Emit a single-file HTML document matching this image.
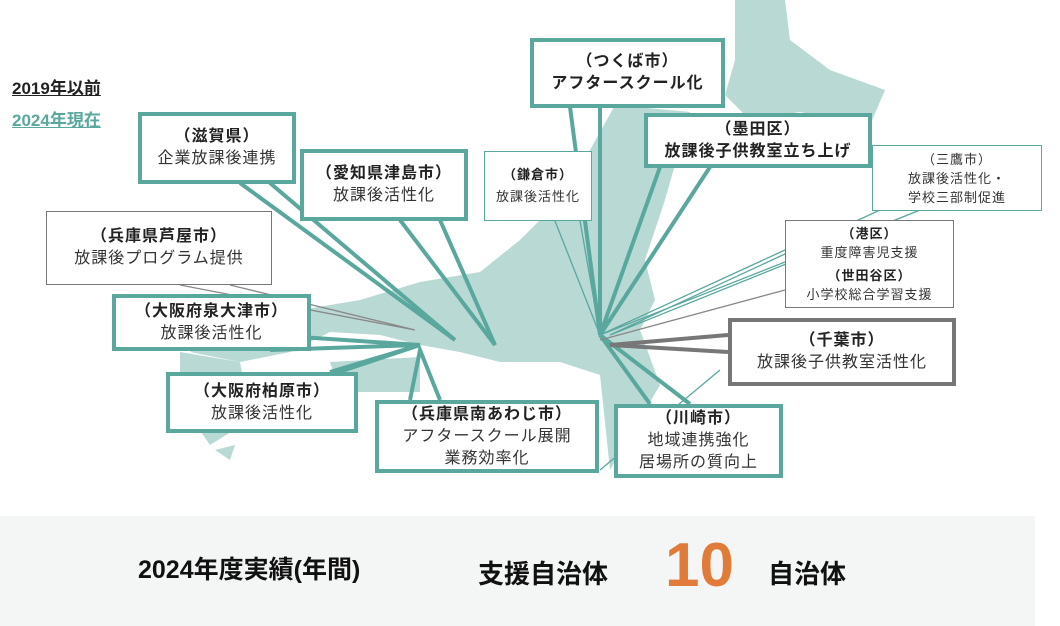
<!DOCTYPE html>
<html><head><meta charset="utf-8"><style>
body{margin:0;width:1060px;height:626px;background:#fff;overflow:hidden;font-family:"Liberation Sans","Noto Sans CJK JP",sans-serif;position:relative}
svg{position:absolute;left:0;top:0}
.b{position:absolute;background:#fff;box-sizing:border-box;text-align:center;color:#333;font-size:16px;line-height:22px;display:flex;flex-direction:column;justify-content:center;letter-spacing:1px}
.t{border:4px solid #5aa79e}
.tt{border:1.5px solid #5aa79e}
.g{border:1.5px solid #777}
.gg{border:4px solid #777}
.b b{font-weight:bold;color:#222}
</style></head><body>
<svg width="1060" height="626">
<g fill="#b9d9d5">
<polygon points="735,0 785,0 790,40 830,70 885,90 870,125 800,112 750,120 725,95 735,60"/>
<polygon points="615,105 690,112 665,200 645,260 655,300 640,330 660,385 610,470 600,375 560,362 500,362 460,352 420,345 380,335 330,332 290,352 240,362 190,352 230,322 300,310 360,300 420,282 480,272 520,240 560,200 590,150"/>
<polygon points="180,352 240,362 250,420 210,445 180,402"/>
<polygon points="330,362 420,357 420,392 340,392"/>
<polygon points="215,450 235,445 230,460"/>
</g>
<g fill="none" stroke="#5aa79e" stroke-width="4">
<polyline points="240,183 455,340 270,183"/>
<polyline points="400,220 495,345 440,220"/>
<polyline points="270,350 420,345 270,335"/>
<polyline points="300,385 420,345 330,372"/>
<polyline points="410,400 420,350 440,400"/>
<polyline points="570,107 600,335 600,107"/>
<polyline points="660,167 600,335 710,167"/>
<polyline points="650,404 600,335 690,404"/>
</g>
<g fill="none" stroke="#5aa79e" stroke-width="1.3">
<polyline points="555,221 600,335 580,221"/>
<polyline points="880,210 610,335 920,210"/>
<polyline points="785,250 600,335 785,262"/>
<polyline points="720,370 600,470"/>
</g>
<g fill="none" stroke="#888" stroke-width="1.3">
<polyline points="180,285 415,330 230,285"/>
<polyline points="785,290 600,340"/>
</g>
<polyline points="728,335 610,345 728,352" fill="none" stroke="#777" stroke-width="4"/>
</svg>
<div style="position:absolute;left:12px;top:74px;font-size:17px;font-weight:bold;color:#222;text-decoration:underline">2019年以前</div>
<div style="position:absolute;left:12px;top:106px;font-size:17px;font-weight:bold;color:#5aa79e;text-decoration:underline">2024年現在</div>
<div class="b t" style="left:138px;top:112px;width:158px;height:72px"><b>（滋賀県）</b>企業放課後連携</div>
<div class="b t" style="left:300px;top:149px;width:168px;height:72px"><b>（愛知県津島市）</b>放課後活性化</div>
<div class="b tt" style="left:484px;top:151px;width:108px;height:70px;font-size:13px"><b>（鎌倉市）</b>放課後活性化</div>
<div class="b t" style="left:530px;top:38px;width:195px;height:70px;font-size:16px"><b>（つくば市）</b><b>アフタースクール化</b></div>
<div class="b t" style="left:644px;top:113px;width:228px;height:55px;font-size:16px"><b>（墨田区）</b><b>放課後子供教室立ち上げ</b></div>
<div class="b tt" style="left:872px;top:145px;width:170px;height:66px;font-size:13px;line-height:19px">（三鷹市）<br>放課後活性化・<br>学校三部制促進</div>
<div class="b g" style="left:785px;top:220px;width:169px;height:88px;font-size:13px;line-height:19px"><b>（港区）</b>重度障害児支援<b style="margin-top:4px">（世田谷区）</b>小学校総合学習支援</div>
<div class="b gg" style="left:728px;top:318px;width:228px;height:68px;font-size:16px"><b>（千葉市）</b>放課後子供教室活性化</div>
<div class="b t" style="left:614px;top:404px;width:169px;height:74px;font-size:16px"><b>（川崎市）</b>地域連携強化<br>居場所の質向上</div>
<div class="b t" style="left:375px;top:400px;width:224px;height:73px"><b>（兵庫県南あわじ市）</b>アフタースクール展開<br>業務効率化</div>
<div class="b t" style="left:166px;top:372px;width:192px;height:61px"><b>（大阪府柏原市）</b>放課後活性化</div>
<div class="b t" style="left:112px;top:294px;width:199px;height:57px"><b>（大阪府泉大津市）</b>放課後活性化</div>
<div class="b g" style="left:46px;top:211px;width:226px;height:74px"><b>（兵庫県芦屋市）</b>放課後プログラム提供</div>
<div style="position:absolute;left:0;top:516px;width:1035px;height:110px;background:#f4f6f6"></div>
<div style="position:absolute;left:138px;top:550px;font-size:25px;font-weight:bold;color:#111">2024年度実績(年間)</div>
<div style="position:absolute;left:478px;top:554px;font-size:26px;font-weight:bold;color:#111">支援自治体</div>
<div style="position:absolute;left:665px;top:530px;font-size:62px;font-weight:bold;color:#e07b39">10</div>
<div style="position:absolute;left:768px;top:554px;font-size:26px;font-weight:bold;color:#111">自治体</div>
</body></html>
